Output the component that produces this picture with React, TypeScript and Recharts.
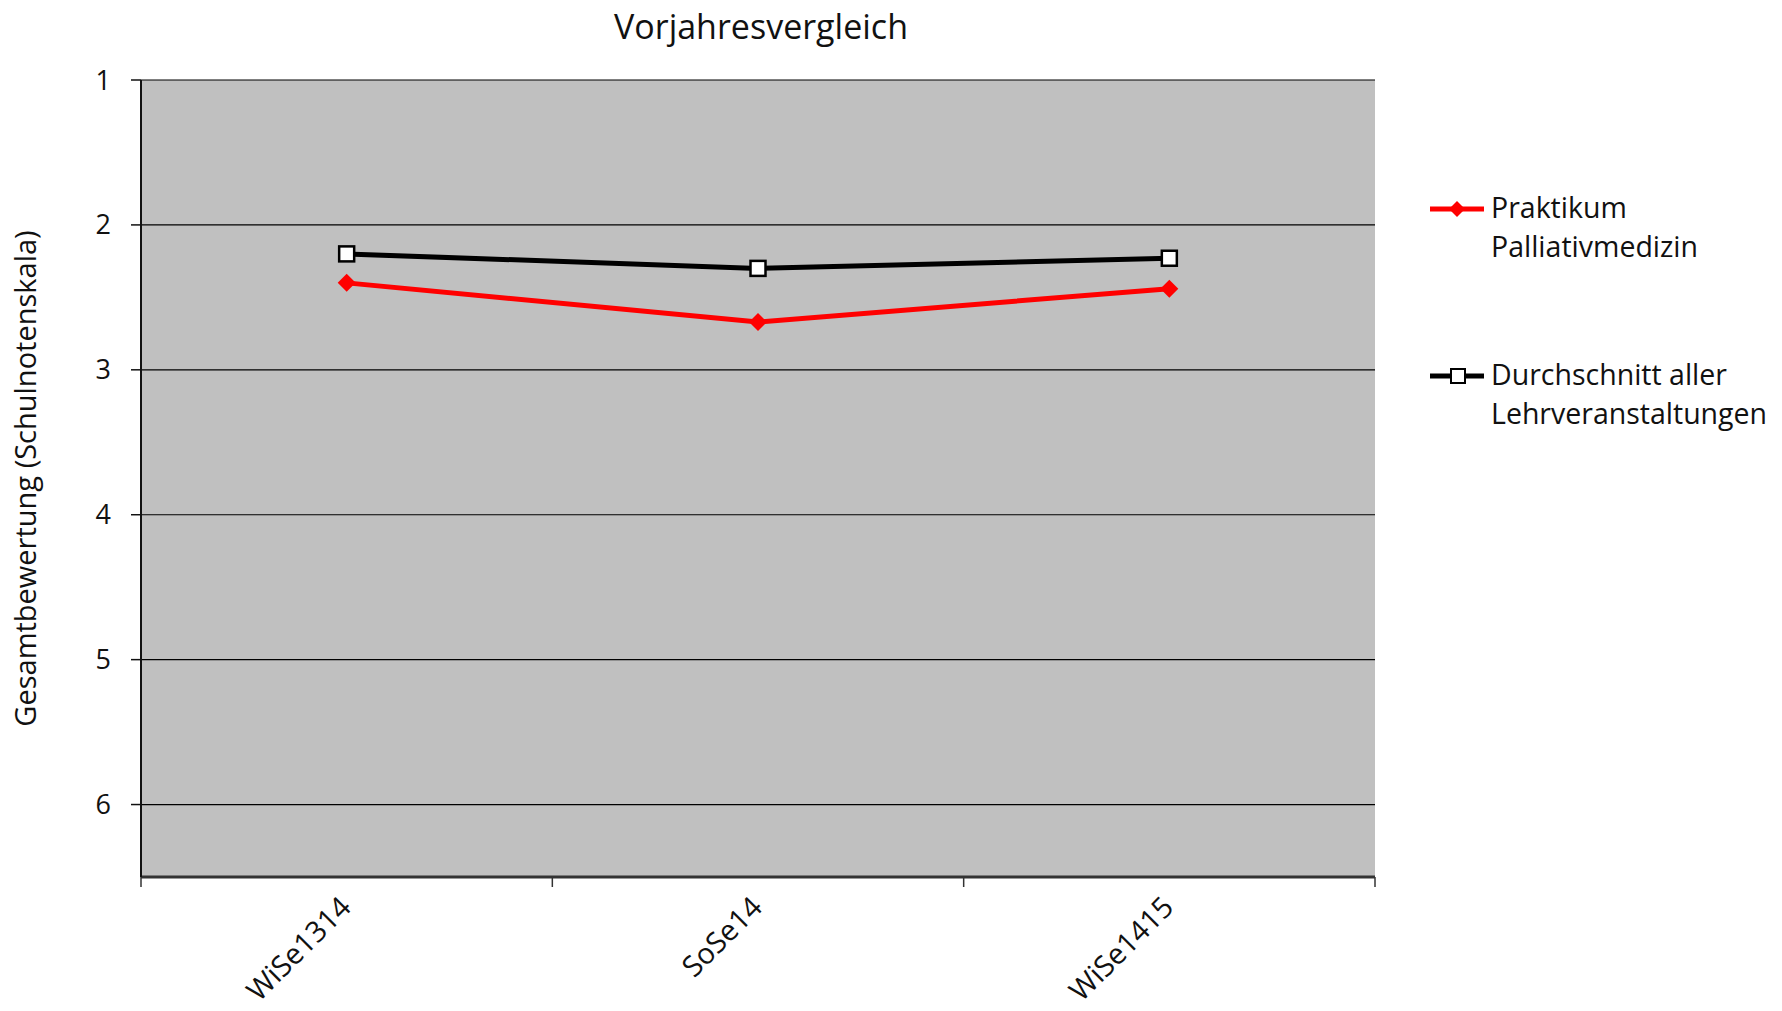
import { LineChart, Line, XAxis, YAxis, CartesianGrid } from 'recharts'

const categories = ['WiSe1314', 'SoSe14', 'WiSe1415']
const praktikum = [2.4, 2.67, 2.44]
const durchschnitt = [2.2, 2.3, 2.23]
const yTicks = [1, 2, 3, 4, 5, 6]

const rows = categories.map((cat, i) => ({
  cat,
  praktikum: praktikum[i],
  durchschnitt: durchschnitt[i],
}))

const W = 1782
const H = 1011
const MARGIN = { top: 80, right: 407, bottom: 0, left: 0 }
const Y_W = 141
const X_H = 134
const BAND = (W - Y_W - MARGIN.right) / categories.length
const FONT = '"Open Sans", "Noto Sans", sans-serif'

// category label in the middle, tick marks on the band edges
function CatTick(props: any) {
  const { x, y, payload, index } = props
  const tx = x + 6
  const ty = y + 32
  return (
    <g>
      <line x1={x - BAND / 2} y1={y} x2={x - BAND / 2} y2={y + 10} stroke="#333" strokeWidth={1.5} />
      {index === categories.length - 1 && (
        <line x1={x + BAND / 2} y1={y} x2={x + BAND / 2} y2={y + 10} stroke="#333" strokeWidth={1.5} />
      )}
      <text
        x={tx}
        y={ty}
        textAnchor="end"
        fontSize={29}
        fontFamily={FONT}
        fill="#111"
        transform={`rotate(-45, ${tx}, ${ty})`}
      >
        {payload.value}
      </text>
    </g>
  )
}

function Diamond(props: any) {
  const { cx, cy } = props
  if (cx == null || cy == null) return null
  const r = 9
  return (
    <polygon
      points={`${cx},${cy - r} ${cx + r},${cy} ${cx},${cy + r} ${cx - r},${cy}`}
      fill="#ff0000"
    />
  )
}

function Square(props: any) {
  const { cx, cy } = props
  if (cx == null || cy == null) return null
  const r = 7.5
  return <rect x={cx - r} y={cy - r} width={2 * r} height={2 * r} fill="#fff" stroke="#000" strokeWidth={2.5} />
}

function LegendBlock() {
  const textStyle: React.CSSProperties = {
    position: 'absolute',
    left: 1491,
    fontSize: 28.5,
    lineHeight: '39px',
    fontFamily: FONT,
    color: '#111',
    whiteSpace: 'nowrap',
  }
  return (
    <>
      <svg style={{ position: 'absolute', left: 1428, top: 195 }} width={60} height={30}>
        <line x1={2} y1={14} x2={56} y2={14} stroke="#ff0000" strokeWidth={5} />
        <polygon points="29,6 37,14 29,22 21,14" fill="#ff0000" />
      </svg>
      <div style={{ ...textStyle, top: 188 }}>
        Praktikum
        <br />
        Palliativmedizin
      </div>
      <svg style={{ position: 'absolute', left: 1428, top: 362 }} width={60} height={30}>
        <line x1={2} y1={14} x2={56} y2={14} stroke="#000" strokeWidth={5} />
        <rect x={23} y={7} width={14} height={14} fill="#fff" stroke="#000" strokeWidth={2} />
      </svg>
      <div style={{ ...textStyle, top: 355 }}>
        Durchschnitt aller
        <br />
        Lehrveranstaltungen
      </div>
    </>
  )
}

export default function App() {
  return (
    <div style={{ position: 'absolute', left: 0, top: 0, width: W, height: H, background: '#fff' }}>
      <div
        style={{
          position: 'absolute',
          top: 3,
          left: 0,
          width: 2 * 761,
          textAlign: 'center',
          fontSize: 34,
          fontFamily: FONT,
          color: '#111',
        }}
      >
        Vorjahresvergleich
      </div>
      <LineChart width={W} height={H} data={rows} margin={MARGIN}>
        <CartesianGrid vertical={false} stroke="#000" strokeWidth={1.2} fill="#c0c0c0" fillOpacity={1} />
        <XAxis
          dataKey="cat"
          scale="band"
          height={X_H}
          interval={0}
          axisLine={{ stroke: '#333', strokeWidth: 3 }}
          tickLine={false}
          tickSize={0}
          tickMargin={0}
          tick={<CatTick />}
        />
        <XAxis
          xAxisId="top"
          orientation="top"
          dataKey="cat"
          scale="band"
          height={0}
          axisLine={{ stroke: '#7a7a7a', strokeWidth: 2.5 }}
          tick={false}
          tickLine={false}
        />
        <YAxis
          reversed
          domain={[1, 6.5]}
          ticks={yTicks}
          width={Y_W}
          tickSize={10}
          tickMargin={20}
          axisLine={{ stroke: '#111', strokeWidth: 2 }}
          tickLine={{ stroke: '#111', strokeWidth: 1.5 }}
          tick={{ fontSize: 27, fontFamily: FONT, fill: '#111' }}
          label={({ viewBox }: any) => (
            <text
              x={28}
              y={viewBox.y + viewBox.height / 2}
              textAnchor="middle"
              dominantBaseline="middle"
              fontSize={29}
              fontFamily={FONT}
              fill="#111"
              transform={`rotate(-90, 28, ${viewBox.y + viewBox.height / 2})`}
            >
              Gesamtbewertung (Schulnotenskala)
            </text>
          )}
        />
        <YAxis
          yAxisId="right"
          orientation="right"
          width={0}
          domain={[1, 6.5]}
          axisLine={{ stroke: '#7a7a7a', strokeWidth: 2.5 }}
          tick={false}
          tickLine={false}
        />
        <Line
          dataKey="durchschnitt"
          stroke="#000"
          strokeWidth={5}
          dot={<Square />}
          activeDot={false}
          isAnimationActive={false}
        />
        <Line
          dataKey="praktikum"
          stroke="#ff0000"
          strokeWidth={5}
          dot={<Diamond />}
          activeDot={false}
          isAnimationActive={false}
        />
      </LineChart>
      <LegendBlock />
    </div>
  )
}
